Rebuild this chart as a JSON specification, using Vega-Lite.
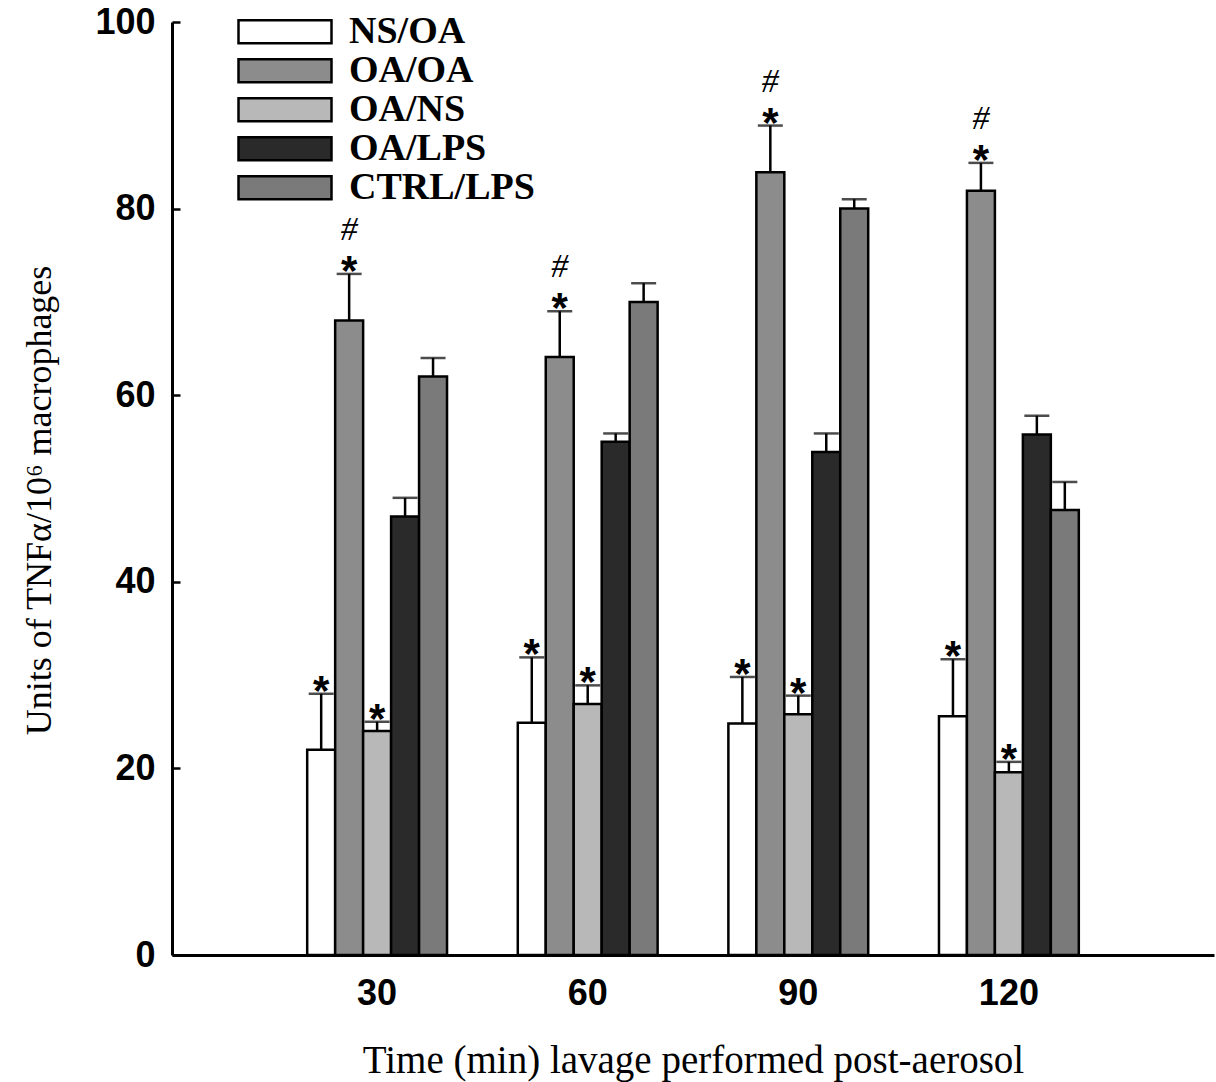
{
  "$schema": "https://vega.github.io/schema/vega-lite/v6.json",
  "width": 1042,
  "height": 933,
  "autosize": {"type": "none"},
  "padding": {"left": 172, "top": 22, "right": 2, "bottom": 127},
  "background": "white",
  "config": {
    "view": {"stroke": null},
    "axis": {
      "domainColor": "black",
      "domainWidth": 3,
      "tickColor": "black",
      "grid": false,
      "labelFont": "Liberation Sans",
      "labelFontWeight": "bold",
      "labelFontSize": 36,
      "labelColor": "black",
      "titleFont": "Liberation Serif",
      "titleFontWeight": "normal",
      "titleColor": "black"
    },
    "legend": {
      "labelFont": "Liberation Serif",
      "labelFontSize": 38,
      "labelFontWeight": "bold",
      "labelColor": "black",
      "labelLimit": 400
    }
  },
  "data": {
    "values": [
      {"time": "30", "group": "NS/OA", "value": 22, "upper": 28, "star": "*", "hash": ""},
      {"time": "30", "group": "OA/OA", "value": 68, "upper": 73, "star": "*", "hash": "#"},
      {"time": "30", "group": "OA/NS", "value": 24, "upper": 25, "star": "*", "hash": ""},
      {"time": "30", "group": "OA/LPS", "value": 47, "upper": 49, "star": "", "hash": ""},
      {"time": "30", "group": "CTRL/LPS", "value": 62, "upper": 64, "star": "", "hash": ""},
      {"time": "60", "group": "NS/OA", "value": 24.9, "upper": 31.9, "star": "*", "hash": ""},
      {"time": "60", "group": "OA/OA", "value": 64.1, "upper": 69, "star": "*", "hash": "#"},
      {"time": "60", "group": "OA/NS", "value": 26.9, "upper": 28.9, "star": "*", "hash": ""},
      {"time": "60", "group": "OA/LPS", "value": 55, "upper": 55.9, "star": "", "hash": ""},
      {"time": "60", "group": "CTRL/LPS", "value": 70, "upper": 72, "star": "", "hash": ""},
      {"time": "90", "group": "NS/OA", "value": 24.8, "upper": 29.8, "star": "*", "hash": ""},
      {"time": "90", "group": "OA/OA", "value": 83.9, "upper": 88.9, "star": "*", "hash": "#"},
      {"time": "90", "group": "OA/NS", "value": 25.8, "upper": 27.8, "star": "*", "hash": ""},
      {"time": "90", "group": "OA/LPS", "value": 53.9, "upper": 55.9, "star": "", "hash": ""},
      {"time": "90", "group": "CTRL/LPS", "value": 80, "upper": 81, "star": "", "hash": ""},
      {"time": "120", "group": "NS/OA", "value": 25.6, "upper": 31.7, "star": "*", "hash": ""},
      {"time": "120", "group": "OA/OA", "value": 81.9, "upper": 84.9, "star": "*", "hash": "#"},
      {"time": "120", "group": "OA/NS", "value": 19.6, "upper": 20.7, "star": "*", "hash": ""},
      {"time": "120", "group": "OA/LPS", "value": 55.8, "upper": 57.8, "star": "", "hash": ""},
      {"time": "120", "group": "CTRL/LPS", "value": 47.7, "upper": 50.7, "star": "", "hash": ""}
    ]
  },
  "encoding": {
    "x": {
      "field": "time",
      "type": "ordinal",
      "sort": ["30", "60", "90", "120"],
      "scale": {"type": "band", "paddingInner": 0.336, "paddingOuter": 0.642},
      "axis": {
        "title": "Time (min) lavage performed post-aerosol",
        "titleFontSize": 39,
        "labelAngle": 0,
        "ticks": false,
        "labelPadding": 21,
        "titlePadding": 30
      }
    },
    "xOffset": {
      "field": "group",
      "type": "nominal",
      "sort": ["NS/OA", "OA/OA", "OA/NS", "OA/LPS", "CTRL/LPS"],
      "scale": {"paddingInner": 0, "paddingOuter": 0}
    }
  },
  "layer": [
    {
      "mark": {"type": "rule", "color": "black", "strokeWidth": 2.5},
      "encoding": {
        "y": {"field": "value", "type": "quantitative"},
        "y2": {"field": "upper"}
      }
    },
    {
      "mark": {"type": "tick", "color": "black", "thickness": 2.5, "size": 25, "orient": "horizontal"},
      "encoding": {
        "y": {"field": "upper", "type": "quantitative"}
      }
    },
    {
      "mark": {"type": "bar", "stroke": "black", "strokeWidth": 2.5},
      "encoding": {
        "y": {
          "field": "value",
          "type": "quantitative",
          "scale": {"domain": [0, 100], "nice": false},
          "axis": {
            "title": "Units of TNFα/10⁶ macrophages",
            "titleFontSize": 36,
            "titleY": 478,
            "values": [0, 20, 40, 60, 80, 100],
            "tickSize": -8,
            "tickWidth": 2.5,
            "labelPadding": 25,
            "titlePadding": 36
          }
        },
        "fill": {
          "field": "group",
          "type": "nominal",
          "sort": ["NS/OA", "OA/OA", "OA/NS", "OA/LPS", "CTRL/LPS"],
          "scale": {
            "domain": ["NS/OA", "OA/OA", "OA/NS", "OA/LPS", "CTRL/LPS"],
            "range": ["#ffffff", "#8c8c8c", "#b8b8b8", "#2a2a2a", "#7a7a7a"]
          },
          "legend": {
            "title": null,
            "orient": "none",
            "legendX": 65,
            "legendY": -9,
            "padding": 0,
            "symbolType": "M-1,-0.247H1V0.247H-1Z",
            "symbolSize": 8649,
            "symbolStrokeColor": "black",
            "symbolStrokeWidth": 2.5,
            "clipHeight": 37.5,
            "rowPadding": 0,
            "labelOffset": 16
          }
        }
      }
    },
    {
      "mark": {"type": "text", "font": "Liberation Sans", "fontWeight": "bold", "fontSize": 42, "baseline": "alphabetic", "dy": 11, "color": "black"},
      "encoding": {
        "y": {"field": "upper", "type": "quantitative"},
        "text": {"field": "star"}
      }
    },
    {
      "mark": {"type": "text", "font": "Liberation Serif", "fontStyle": "italic", "fontSize": 34, "baseline": "middle", "dy": -44, "color": "black"},
      "encoding": {
        "y": {"field": "upper", "type": "quantitative"},
        "text": {"field": "hash"}
      }
    }
  ]
}
